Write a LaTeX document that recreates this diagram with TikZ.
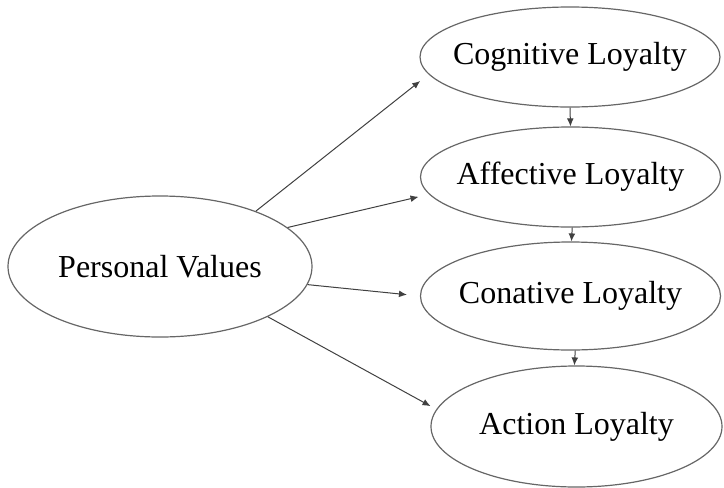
\documentclass[tikz,border=0pt]{standalone}
\usepackage{fontspec}
\setmainfont{Liberation Serif}
\usetikzlibrary{shapes.geometric,arrows.meta}

\begin{document}
\begin{tikzpicture}[x=0.5pt,y=-0.5pt,
	loyal/.style={ellipse, draw=black!60, line width=0.6pt, inner xsep=-10pt, inner ysep=0pt, font=\fontsize{16}{19}\selectfont},
	arr/.style={draw=black!75, line width=0.5pt, -{Latex[length=4pt,width=3.4pt]}}]
	\useasboundingbox (0,0) rectangle (724,488);
	\node[loyal, minimum width=152pt, minimum height=70.5pt] (pv) at (160,266.5) {Personal Values};
	\node[loyal, minimum width=150pt, minimum height=50pt] (cog) at (570,57) {Cognitive Loyalty};
	\node[loyal, minimum width=150pt, minimum height=50pt] (aff) at (570.5,177) {Affective Loyalty};
	\node[loyal, minimum width=150pt, minimum height=54pt] (con) at (570.5,296) {Conative Loyalty};
	\node[loyal, minimum width=145.5pt, minimum height=60.5pt] (act) at (576.5,426.5) {Action Loyalty};
	% values to each stage
	\draw[arr, shorten >=5.3pt] (pv.30.9) -- (cog.187.1);
	\draw[arr, shorten >=5.4pt] (pv.17) -- (aff.187.1);
	\draw[arr, shorten >=6.5pt] (pv.-7.5) -- (con.180.5);
	\draw[arr, shorten >=3.3pt] (pv.-25.7) -- (act.173.6);
	% stage to stage
	\draw[arr] (cog.south) -- (aff.north);
	\draw[arr] (aff.-88) -- (con.89);
	\draw[arr] (con.-85) -- (act.92);
\end{tikzpicture}
\end{document}
